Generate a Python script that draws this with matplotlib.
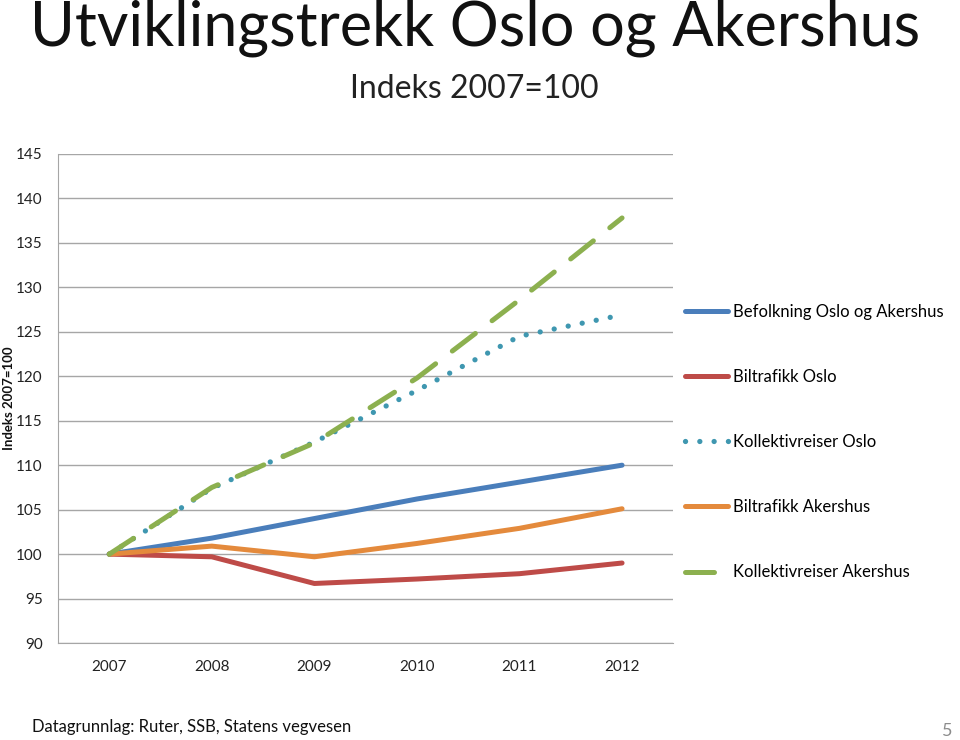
import numpy as np
import matplotlib.pyplot as plt

# Data (index 2007=100)
years = ["2007", "2008", "2009", "2010", "2011", "2012"]
befolkning = [100, 101.8, 104.0, 106.2, 108.1, 110.0]
biltrafikk_oslo = [100, 99.7, 96.7, 97.2, 97.8, 99.0]
kollektiv_oslo = [100, 107.4, 112.6, 118.4, 124.5, 126.9]
biltrafikk_akershus = [100, 100.9, 99.7, 101.2, 102.9, 105.1]
kollektiv_akershus = [100, 107.5, 112.5, 119.8, 128.6, 137.8]

plt.rcParams['font.family'] = ['Lato', 'DejaVu Sans']

fig = plt.figure(figsize=(9.6, 7.4), dpi=100)
ax = fig.add_axes([0.0604, 0.131, 0.641, 0.661])

x = np.arange(len(years))
lw = 3.6
ax.plot(x, befolkning, color='#4A7EBB', lw=lw, solid_capstyle='round',
        label='Befolkning Oslo og Akershus')
ax.plot(x, biltrafikk_oslo, color='#BE4B48', lw=lw, solid_capstyle='round',
        label='Biltrafikk Oslo')
ax.plot(x, kollektiv_oslo, color='#3F97B0', lw=3.8, linestyle=(0, (0.01, 2.7)),
        dash_capstyle='round', label='Kollektivreiser Oslo')
ax.plot(x, biltrafikk_akershus, color='#E48A3C', lw=lw, solid_capstyle='round',
        label='Biltrafikk Akershus')
ax.plot(x, kollektiv_akershus, color='#8CB04F', lw=lw, linestyle=(0, (5.8, 4.2)),
        dash_capstyle='round', label='Kollektivreiser Akershus')

ax.set_xlim(-0.5, 5.5)
ax.set_ylim(90, 145)
ax.set_yticks(np.arange(90, 146, 5))
ax.set_xticks(x)
ax.set_xticklabels(years)
ax.grid(axis='y', color='#A6A6A6', lw=1.0)
ax.set_axisbelow(True)
for s in ['top', 'right']:
    ax.spines[s].set_visible(False)
for s in ['left', 'bottom']:
    ax.spines[s].set_color('#A6A6A6')
ax.tick_params(length=0, labelsize=11, colors='#222222', pad=12)
ax.tick_params(axis='y', pad=11)

fig.text(0.009, 0.462, 'Indeks 2007=100', rotation=90, ha='center', va='center',
         fontsize=9.5, fontweight='bold', color='#111111')

ax.legend(loc='center left', bbox_to_anchor=(1.0, 0.411), frameon=False,
          fontsize=12, labelspacing=2.95, handlelength=2.6, handletextpad=0.3,
          borderaxespad=0.3)

fig.text(0.495, 0.962, 'Utviklingstrekk Oslo og Akershus', ha='center', va='center',
         fontsize=44, color='#111111')
fig.text(0.494, 0.880, 'Indeks 2007=100', ha='center', va='center',
         fontsize=23, color='#222222')
fig.text(0.033, 0.017, 'Datagrunnlag: Ruter, SSB, Statens vegvesen', ha='left',
         va='center', fontsize=12, color='#111111')
fig.text(0.992, 0.012, '5', ha='right', va='center', fontsize=13, color='#8C8C8C')

fig.savefig('out.png', dpi=100)
